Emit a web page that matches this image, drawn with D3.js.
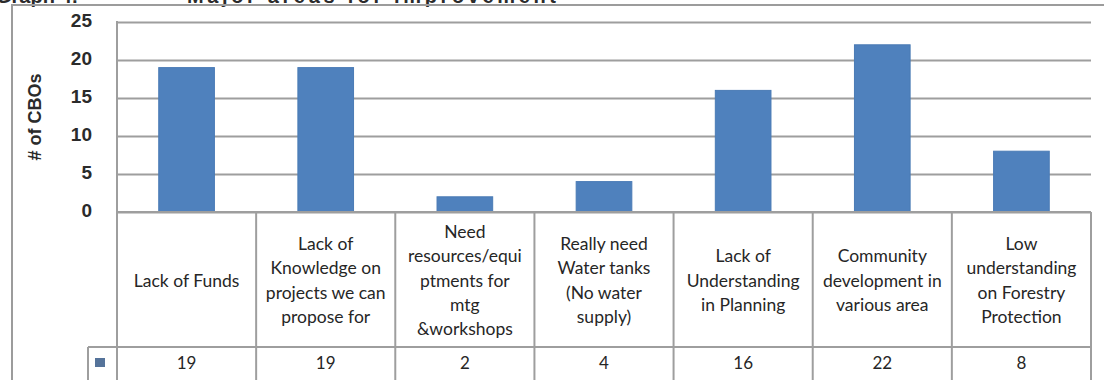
<!DOCTYPE html>
<html>
<head>
<meta charset="utf-8">
<script src="https://cdn.jsdelivr.net/npm/d3@7"></script>
<style>
  body { margin: 0; background: #fff; }
  svg { display: block; }
  .lbl { font-family: Lato, "Liberation Sans", sans-serif; fill: #262626; }
  .bold { font-family: "Liberation Sans", Arial, sans-serif; font-weight: bold; fill: #2b2b2b; }
</style>
</head>
<body>
<div id="chart"></div>
<script>
// data
var categories = [
	"Lack of Funds",
	"Lack of\nKnowledge on\nprojects we can\npropose for",
	"Need\nresources/equi\nptments for\nmtg\n&workshops",
	"Really need\nWater tanks\n(No water\nsupply)",
	"Lack of\nUnderstanding\nin Planning",
	"Community\ndevelopment in\nvarious area",
	"Low\nunderstanding\non Forestry\nProtection"
];
var values = [19, 19, 2, 4, 16, 22, 8];
var yTicks = [0, 5, 10, 15, 20, 25];

// magic numbers
var width = 1104, height = 380,
	plot = {left: 117, right: 1091, top: 22, bottom: 212},
	rowSplit = 347,
	keyLeft = 88,
	gridColor = "#9e9e9e",
	barColor = "#4f81bd";

var svg = d3.select("#chart").append("svg")
	.attr("width", width)
	.attr("height", height);

// scales
var x = d3.scaleBand()
	.domain(categories)
	.range([plot.left, plot.right])
	.paddingInner(0.6)
	.paddingOuter(0.3);

var col = d3.scaleBand()
	.domain(categories)
	.range([plot.left, plot.right])
	.padding(0);

var y = d3.scaleLinear()
	.domain([0, 25])
	.range([plot.bottom, plot.top]);

// title (cut off at top of picture, as in the source)
svg.append("text")
	.attr("class", "bold")
	.attr("x", -4)
	.attr("y", 3)
	.style("font-size", "20px")
	.text("Graph 4:");
svg.append("text")
	.attr("class", "bold")
	.attr("x", 187)
	.attr("y", 3)
	.attr("textLength", 369)
	.style("font-size", "20px")
	.text("Major areas for improvement");

// outer frame
svg.append("path")
	.attr("d", "M12," + height + "V5H" + width)
	.attr("fill", "none")
	.attr("stroke", "#9c9c9c")
	.attr("stroke-width", 2);

// gridlines
svg.append("g")
	.attr("transform", "translate(" + plot.left + ",0)")
	.call(d3.axisLeft(y).tickValues(yTicks).tickSize(-(plot.right - plot.left)).tickFormat(""))
	.call(function(g){
		g.select(".domain").remove();
		g.selectAll("line").attr("stroke", gridColor).attr("stroke-width", 2);
	});

// tick labels
svg.append("g")
	.attr("transform", "translate(" + plot.left + ",0)")
	.call(d3.axisLeft(y).tickValues(yTicks).tickSize(0).tickPadding(25))
	.call(function(g){
		g.select(".domain").remove();
		g.selectAll("text")
			.attr("class", "bold")
			.attr("dy", "0.25em")
			.style("font-size", "19px");
	});

// y axis title
svg.append("text")
	.attr("class", "bold")
	.attr("transform", "translate(41," + ((plot.top + plot.bottom) / 2) + ") rotate(-90)")
	.attr("text-anchor", "middle")
	.style("font-size", "18px")
	.text("# of CBOs");

// bars
svg.selectAll(".bar")
	.data(values)
	.enter().append("rect")
		.attr("class", "bar")
		.attr("x", function(d, i){ return x(categories[i]); })
		.attr("y", function(d){ return y(d); })
		.attr("width", x.bandwidth())
		.attr("height", function(d){ return y(0) - y(d); })
		.attr("fill", barColor)
		.attr("stroke", "#4a7bb5")
		.attr("stroke-width", 1);

// data table lines
var table = svg.append("g")
	.attr("stroke", gridColor)
	.attr("stroke-width", 2)
	.attr("fill", "none");

table.append("line")
	.attr("x1", plot.left).attr("x2", plot.right)
	.attr("y1", plot.bottom).attr("y2", plot.bottom);

table.append("line")
	.attr("x1", keyLeft).attr("x2", plot.right)
	.attr("y1", rowSplit).attr("y2", rowSplit);

table.append("line")
	.attr("x1", keyLeft).attr("x2", keyLeft)
	.attr("y1", rowSplit).attr("y2", height);

table.append("line")
	.attr("x1", plot.left).attr("x2", plot.left)
	.attr("y1", plot.top - 1).attr("y2", height);

table.selectAll(".col-sep")
	.data(categories)
	.enter().append("line")
		.attr("class", "col-sep")
		.attr("x1", function(d){ return col(d) + col.bandwidth(); })
		.attr("x2", function(d){ return col(d) + col.bandwidth(); })
		.attr("y1", plot.bottom)
		.attr("y2", height);

// category labels
var lineH = 24.3;
var labels = svg.selectAll(".cat-label")
	.data(categories)
	.enter().append("text")
		.attr("class", "cat-label lbl")
		.attr("text-anchor", "middle")
		.style("font-size", "17.5px")
		.attr("transform", function(d){ return "translate(" + (col(d) + col.bandwidth() / 2) + ",0)"; });

labels.each(function(d){
	var lines = d.split("\n");
	var mid = (plot.bottom + rowSplit) / 2 + 1;
	var y0 = mid - (lines.length - 1) * lineH / 2;
	d3.select(this).selectAll("tspan")
		.data(lines)
		.enter().append("tspan")
			.attr("x", 0)
			.attr("y", function(l, j){ return y0 + j * lineH; })
			.attr("dy", "0.35em")
			.text(function(l){ return l; });
});

// legend key
svg.append("rect")
	.attr("x", 95)
	.attr("y", 358)
	.attr("width", 10)
	.attr("height", 9)
	.attr("fill", "#55739a");

// values row
svg.selectAll(".val-label")
	.data(values)
	.enter().append("text")
		.attr("class", "val-label lbl")
		.attr("text-anchor", "middle")
		.style("font-size", "17px")
		.attr("x", function(d, i){ return col(categories[i]) + col.bandwidth() / 2; })
		.attr("y", 363)
		.attr("dy", "0.35em")
		.text(function(d){ return d; });
</script>
</body>
</html>
